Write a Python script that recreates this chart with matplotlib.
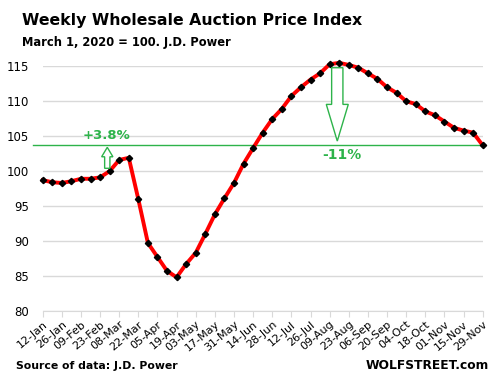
import matplotlib.pyplot as plt
from matplotlib.patches import FancyArrow

# weekly index, 12-Jan to 29-Nov 2020
values = [98.7, 98.4, 98.3, 98.55, 98.9, 98.9, 99.1, 100.0, 101.6, 101.9,
          95.95, 89.7, 87.7, 85.7, 84.8, 86.7, 88.3, 91.0, 93.8, 96.1,
          98.3, 101.05, 103.3, 105.5, 107.45, 108.9, 110.75, 112.0, 113.1, 114.0,
          115.3, 115.5, 115.2, 114.8, 114.0, 113.2, 112.0, 111.2, 110.0, 109.6,
          108.55, 108.0, 107.1, 106.2, 105.8, 105.5, 103.7]
tick_labels = ['12-Jan', '26-Jan', '09-Feb', '23-Feb', '08-Mar', '22-Mar',
               '05-Apr', '19-Apr', '03-May', '17-May', '31-May', '14-Jun',
               '28-Jun', '12-Jul', '26-Jul', '09-Aug', '23-Aug', '06-Sep',
               '20-Sep', '04-Oct', '18-Oct', '01-Nov', '15-Nov', '29-Nov']
latest = 103.7
green = '#2db34a'

fig = plt.figure(figsize=(4.91, 3.79), dpi=100)
ax = fig.add_axes([0.087, 0.180, 0.896, 0.645])

x = list(range(len(values)))
ax.plot(x, values, color='red', lw=2.8, zorder=3, clip_on=False)
ax.plot(x, values, ls='', marker='D', ms=3.2, color='black', zorder=4, clip_on=False)

ax.set_xlim(0, len(values) - 1)
ax.set_ylim(80, 115)
ax.set_yticks(range(80, 116, 5))
ax.set_xticks(range(0, len(values), 2))
ax.set_xticklabels(tick_labels, rotation=40, ha='right', rotation_mode='anchor', fontsize=8)
ax.tick_params(axis='y', length=0, pad=10, labelsize=8.5)
ax.tick_params(axis='x', length=4, color='#d9d9d9', pad=2)
ax.grid(axis='y', color='#d9d9d9', lw=1)
ax.set_axisbelow(True)
for s in ['top', 'right', 'left']:
    ax.spines[s].set_visible(False)
ax.spines['bottom'].set_color('#d9d9d9')

# reference line at latest value
ax.plot([-1.0, 46.2], [latest, latest], color=green, lw=1, clip_on=False, zorder=2)

# up arrow +3.8%
ax.add_patch(FancyArrow(6.75, 100.4, 0, 3.0, width=0.55, head_width=1.18, head_length=1.35,
                        length_includes_head=True, fc='white', ec=green, lw=1, zorder=5))
ax.text(6.7, 105.15, '+3.8%', color=green, fontsize=9.5, fontweight='bold', ha='center', va='center')

# down arrow -11%
ax.add_patch(FancyArrow(30.8, 114.8, 0, -10.5, width=1.18, head_width=2.3, head_length=5.25,
                        length_includes_head=True, fc='white', ec=green, lw=1, zorder=5))
ax.text(31.3, 102.3, '-11%', color=green, fontsize=10, fontweight='bold', ha='center', va='center')

fig.text(0.044, 0.945, 'Weekly Wholesale Auction Price Index', fontsize=11.3, fontweight='bold', va='center')
fig.text(0.044, 0.887, 'March 1, 2020 = 100. J.D. Power', fontsize=8.3, fontweight='bold', va='center')
fig.text(0.032, 0.035, 'Source of data: J.D. Power', fontsize=7.8, fontweight='bold', va='center')
fig.text(0.995, 0.035, 'WOLFSTREET.com', fontsize=8.8, fontweight='bold', va='center', ha='right')

fig.savefig('out.png', dpi=100)
